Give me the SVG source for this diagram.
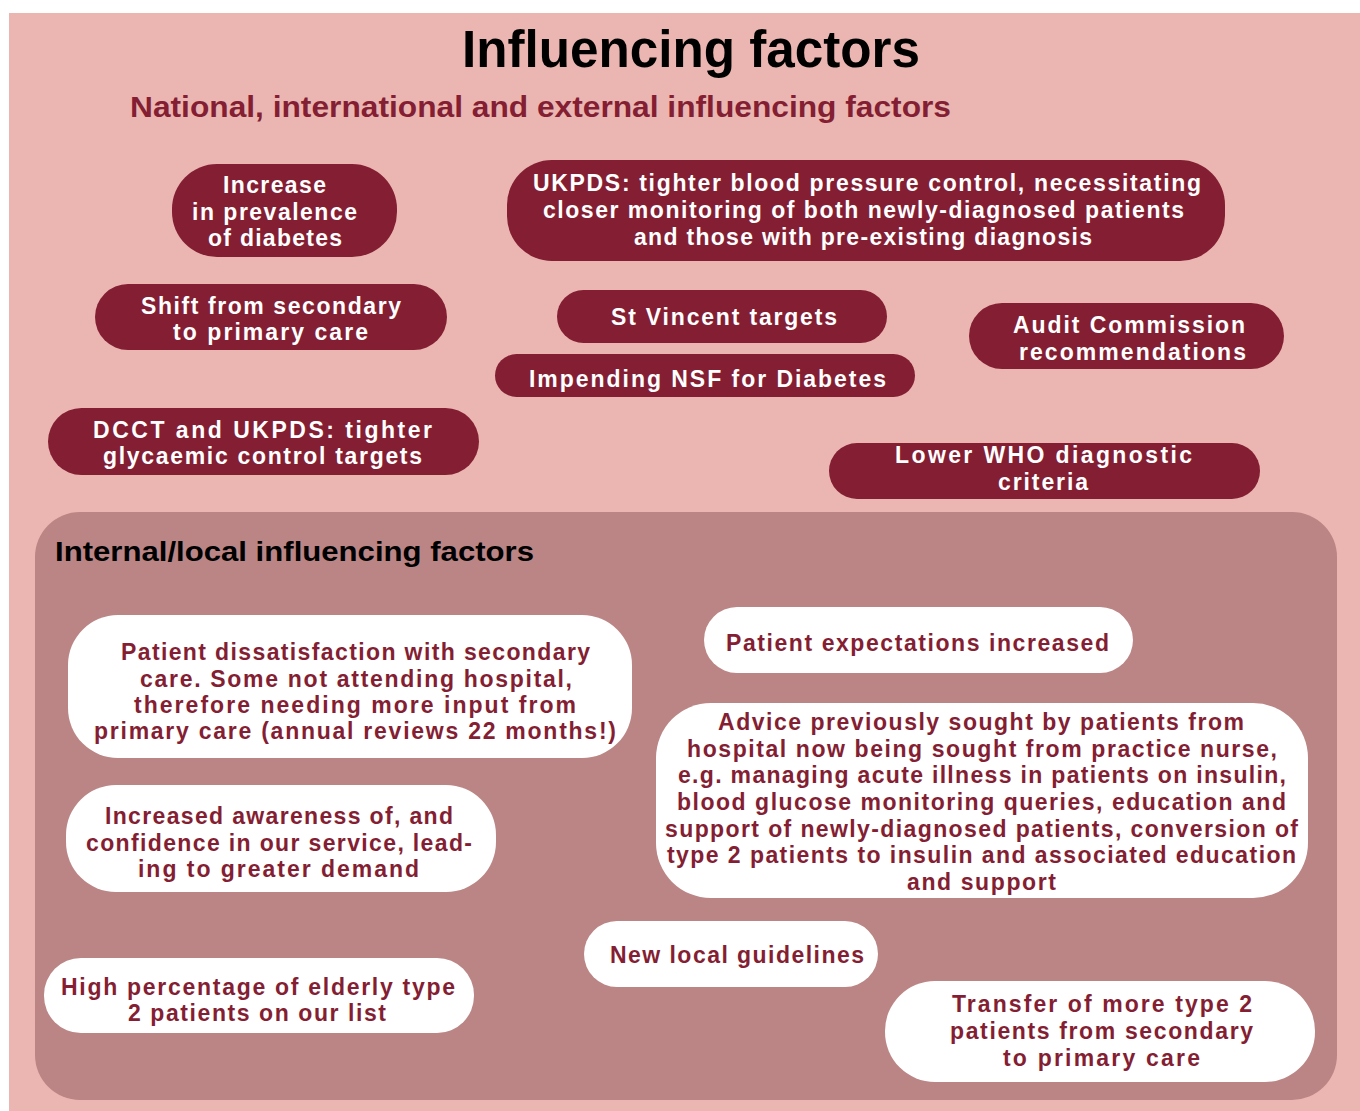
<svg xmlns="http://www.w3.org/2000/svg" width="1360" height="1111" viewBox="0 0 1360 1111">
<style>
text{font-family:"Liberation Sans",Arial,sans-serif;font-weight:bold;font-size:23px}
.dark{fill:#841E33}
.light{fill:#FFFFFF}
.tw{fill:#FFFFFF}
.tr{fill:#841E33}
.title{font-size:51px;fill:#000}
.sub{font-size:30px;fill:#841E33}
.hdr{font-size:28px;fill:#000}
</style>
<rect x="0" y="0" width="1360" height="1111" fill="#FFFFFF"/>
<rect id="outer" x="9" y="13" width="1351" height="1098" fill="#EBB6B2"/>
<rect id="inner" x="35" y="512" width="1302" height="588" rx="45" fill="#BA8584"/>
<text class="title" x="462" y="67" textLength="458" lengthAdjust="spacingAndGlyphs">Influencing factors</text>
<text class="sub" x="130" y="117" textLength="821" lengthAdjust="spacingAndGlyphs">National, international and external influencing factors</text>
<text class="hdr" x="55" y="561" textLength="479" lengthAdjust="spacingAndGlyphs">Internal/local influencing factors</text>
<g id="connectors"/>
<g id="n-increase">
<rect class="dark" x="172" y="164" width="225" height="93" rx="45"/>
<text class="tw" x="223" y="193" textLength="103" lengthAdjust="spacing">Increase</text>
<text class="tw" x="192" y="220" textLength="165" lengthAdjust="spacing">in prevalence</text>
<text class="tw" x="208" y="246" textLength="134" lengthAdjust="spacing">of diabetes</text>
</g>
<g id="n-ukpds">
<rect class="dark" x="507" y="160" width="718" height="101" rx="45"/>
<text class="tw" x="533" y="191" textLength="668" lengthAdjust="spacing">UKPDS: tighter blood pressure control, necessitating</text>
<text class="tw" x="543" y="218" textLength="641" lengthAdjust="spacing">closer monitoring of both newly-diagnosed patients</text>
<text class="tw" x="634" y="245" textLength="458" lengthAdjust="spacing">and those with pre-existing diagnosis</text>
</g>
<g id="n-shift">
<rect class="dark" x="95" y="284" width="352" height="66" rx="33"/>
<text class="tw" x="141" y="314" textLength="260" lengthAdjust="spacing">Shift from secondary</text>
<text class="tw" x="173" y="340" textLength="195" lengthAdjust="spacing">to primary care</text>
</g>
<g id="n-stvincent">
<rect class="dark" x="557" y="290" width="330" height="53" rx="26.5"/>
<text class="tw" x="611" y="325" textLength="226" lengthAdjust="spacing">St Vincent targets</text>
</g>
<g id="n-nsf">
<rect class="dark" x="495" y="354" width="420" height="43" rx="21.5"/>
<text class="tw" x="529" y="387" textLength="357" lengthAdjust="spacing">Impending NSF for Diabetes</text>
</g>
<g id="n-audit">
<rect class="dark" x="969" y="303" width="315" height="66" rx="33"/>
<text class="tw" x="1013" y="333" textLength="232" lengthAdjust="spacing">Audit Commission</text>
<text class="tw" x="1019" y="360" textLength="227" lengthAdjust="spacing">recommendations</text>
</g>
<g id="n-dcct">
<rect class="dark" x="48" y="408" width="431" height="67" rx="33.5"/>
<text class="tw" x="93" y="438" textLength="339" lengthAdjust="spacing">DCCT and UKPDS: tighter</text>
<text class="tw" x="103" y="464" textLength="319" lengthAdjust="spacing">glycaemic control targets</text>
</g>
<g id="n-who">
<rect class="dark" x="829" y="443" width="431" height="56" rx="28"/>
<text class="tw" x="895" y="463" textLength="297" lengthAdjust="spacing">Lower WHO diagnostic</text>
<text class="tw" x="998" y="490" textLength="90" lengthAdjust="spacing">criteria</text>
</g>
<g id="n-dissatisfaction">
<rect class="light" x="68" y="615" width="564" height="143" rx="50"/>
<text class="tr" x="121" y="660" textLength="469" lengthAdjust="spacing">Patient dissatisfaction with secondary</text>
<text class="tr" x="140" y="687" textLength="432" lengthAdjust="spacing">care. Some not attending hospital,</text>
<text class="tr" x="134" y="713" textLength="442" lengthAdjust="spacing">therefore needing more input from</text>
<text class="tr" x="94" y="739" textLength="522" lengthAdjust="spacing">primary care (annual reviews 22 months!)</text>
</g>
<g id="n-awareness">
<rect class="light" x="66" y="785" width="430" height="107" rx="50"/>
<text class="tr" x="105" y="824" textLength="348" lengthAdjust="spacing">Increased awareness of, and</text>
<text class="tr" x="86" y="851" textLength="386" lengthAdjust="spacing">confidence in our service, lead-</text>
<text class="tr" x="138" y="877" textLength="281" lengthAdjust="spacing">ing to greater demand</text>
</g>
<g id="n-expectations">
<rect class="light" x="704" y="607" width="429" height="66" rx="33"/>
<text class="tr" x="726" y="651" textLength="383" lengthAdjust="spacing">Patient expectations increased</text>
</g>
<g id="n-advice">
<rect class="light" x="656" y="703" width="652" height="195" rx="55"/>
<text class="tr" x="718" y="730" textLength="526" lengthAdjust="spacing">Advice previously sought by patients from</text>
<text class="tr" x="687" y="757" textLength="590" lengthAdjust="spacing">hospital now being sought from practice nurse,</text>
<text class="tr" x="678" y="783" textLength="608" lengthAdjust="spacing">e.g. managing acute illness in patients on insulin,</text>
<text class="tr" x="677" y="810" textLength="609" lengthAdjust="spacing">blood glucose monitoring queries, education and</text>
<text class="tr" x="665" y="837" textLength="633" lengthAdjust="spacing">support of newly-diagnosed patients, conversion of</text>
<text class="tr" x="667" y="863" textLength="629" lengthAdjust="spacing">type 2 patients to insulin and associated education</text>
<text class="tr" x="907" y="890" textLength="149" lengthAdjust="spacing">and support</text>
</g>
<g id="n-guidelines">
<rect class="light" x="584" y="921" width="294" height="66" rx="33"/>
<text class="tr" x="610" y="963" textLength="254" lengthAdjust="spacing">New local guidelines</text>
</g>
<g id="n-elderly">
<rect class="light" x="44" y="958" width="430" height="75" rx="37"/>
<text class="tr" x="61" y="995" textLength="394" lengthAdjust="spacing">High percentage of elderly type</text>
<text class="tr" x="128" y="1021" textLength="258" lengthAdjust="spacing">2 patients on our list</text>
</g>
<g id="n-transfer">
<rect class="light" x="885" y="981" width="430" height="101" rx="50"/>
<text class="tr" x="952" y="1012" textLength="300" lengthAdjust="spacing">Transfer of more type 2</text>
<text class="tr" x="950" y="1039" textLength="303" lengthAdjust="spacing">patients from secondary</text>
<text class="tr" x="1003" y="1066" textLength="197" lengthAdjust="spacing">to primary care</text>
</g>
</svg>
